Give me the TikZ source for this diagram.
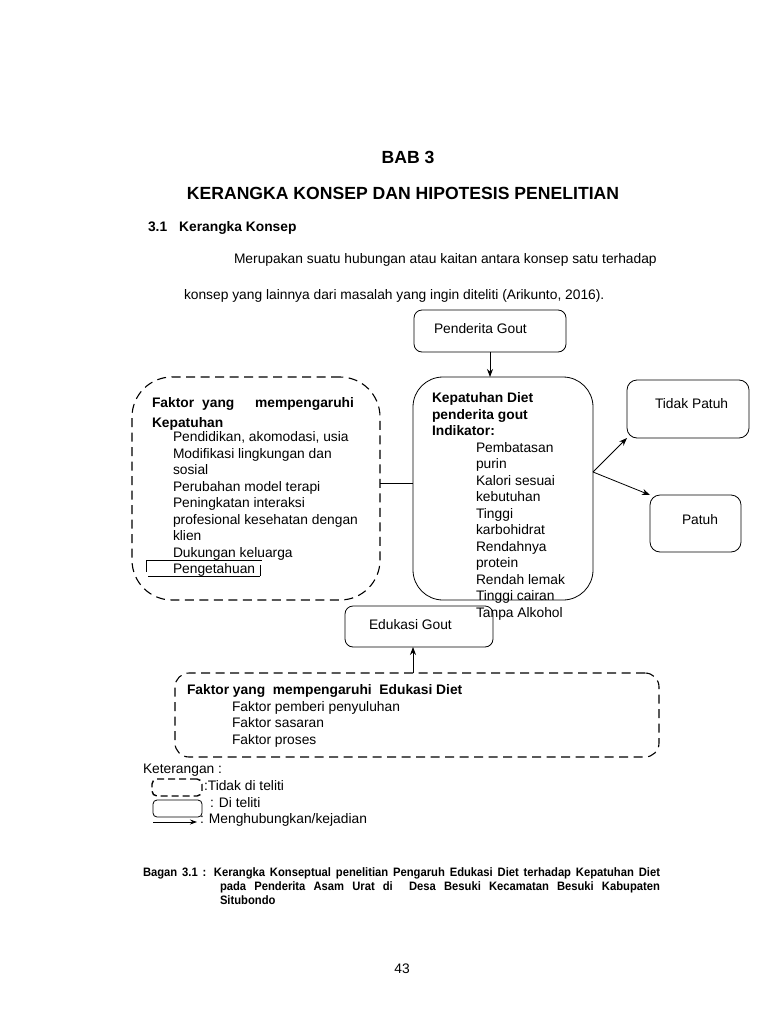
\documentclass[tikz,border=0pt]{standalone}
\usepackage{fontspec}
\setmainfont{Liberation Sans}
\newfontfamily\capfont[FakeStretch=0.92]{Liberation Sans}
\usetikzlibrary{arrows.meta,calc}
\begin{document}
\begin{tikzpicture}[x=1pt,y=-1pt,
  every node/.style={inner sep=0pt, outer sep=0pt},
  txt/.style={font=\fontsize{13.8}{16.5}\selectfont, anchor=west},
  blk/.style={font=\fontsize{13.8}{16.5}\selectfont, align=left, anchor=north west},
  bld/.style={font=\fontsize{13.8}{16.5}\selectfont\bfseries, align=left, anchor=north west},
  capt/.style={font=\capfont\fontsize{12.2}{13.5}\selectfont\bfseries, anchor=west},
  sbox/.style={draw, line width=0.8pt, rounded corners=8pt, anchor=north west},
  dbox/.style={draw, line width=1.1pt, dash pattern=on 9pt off 5.5pt, anchor=north west},
  arr/.style={-{Stealth[length=8pt,width=6pt]}, line width=0.8pt},
  ln/.style={line width=0.8pt}]
\fill[white] (0,0) rectangle (768,1024);
\useasboundingbox (0,0) rectangle (768,1024);

% header
\node[font=\fontsize{17.6}{20}\selectfont\bfseries] (bab) at (408,157) {BAB 3};
\node[font=\fontsize{17.6}{20}\selectfont\bfseries] (judul) at (403,193) {KERANGKA KONSEP DAN HIPOTESIS PENELITIAN};
\node[font=\fontsize{13.8}{16}\selectfont\bfseries, anchor=west] (sub) at (148,228) {3.1\hspace{12pt}Kerangka Konsep};
\node[txt] (p1) at (234,260) {Merupakan suatu hubungan atau kaitan antara konsep satu terhadap};
\node[txt] (p2) at (184,296) {konsep yang lainnya dari masalah yang ingin diteliti (Arikunto, 2016).};

% Penderita Gout
\node[sbox, minimum width=152pt, minimum height=42pt] (pg) at (414,310) {};
\node[txt] (pgt) at (434,329) {Penderita Gout};

% Kepatuhan Diet
\node[sbox, rounded corners=30pt, minimum width=180pt, minimum height=223pt] (kd) at (413,377) {};
\node[bld] (kdt) at (432,392.5) {Kepatuhan Diet\\penderita gout\\Indikator:};
\node[blk] (kdi) at (476,442) {Pembatasan\\purin\\Kalori sesuai\\kebutuhan\\Tinggi\\karbohidrat\\Rendahnya\\protein\\Rendah lemak\\Tinggi cairan\\Tanpa Alkohol};

% Faktor kepatuhan
\node[dbox, rounded corners=40pt, minimum width=248pt, minimum height=223pt] (fk) at (132,377) {};
\node[bld, font=\fontsize{13.8}{20}\selectfont\bfseries] (fkh) at (152,397.5) {\makebox[202pt][l]{Faktor\hspace{8pt}yang\hfill mempengaruhi}\\Kepatuhan};
\node[blk] (fki) at (173,431.5) {Pendidikan, akomodasi, usia\\Modifikasi lingkungan dan\\sosial\\Perubahan model terapi\\Peningkatan interaksi\\profesional kesehatan dengan\\klien\\Dukungan keluarga\\Pengetahuan};
\draw[line width=0.7pt] (146,560) -- (262,560);
\draw[line width=0.7pt] (146,560) -- (146,572);
\draw[line width=0.7pt] (148,576) -- (260,576);
\draw[line width=0.7pt] (260,565) -- (260,576);

% Tidak Patuh / Patuh
\node[sbox, rounded corners=10pt, minimum width=122pt, minimum height=58pt] (tp) at (627,380) {};
\node[txt] (tpt) at (655,404) {Tidak Patuh};
\node[sbox, rounded corners=10pt, minimum width=91pt, minimum height=57pt] (pt) at (650,495) {};
\node[txt] (ptt) at (682,520) {Patuh};

% Edukasi Gout
\node[sbox, rounded corners=8pt, minimum width=148pt, minimum height=41pt] (ed) at (345,606) {};
\node[txt] (edt) at (369,625) {Edukasi Gout};

% Faktor edukasi
\node[dbox, rounded corners=14pt, minimum width=484pt, minimum height=84pt] (bd) at (175,673) {};
\node[bld] (bdh) at (187,684.5) {Faktor yang\ \ mempengaruhi\ \ Edukasi Diet};
\node[blk] (bdi) at (232,701) {Faktor pemberi penyuluhan\\Faktor sasaran\\Faktor proses};

% connectors
\draw[ln] (fk.east |- 0,483) -- (kd.west |- 0,483);
\draw[arr] (pg.south) -- (pg.south |- kd.north);
\coordinate (ks) at ($(kd.east)+(0,-16.5)$);
\draw[arr] (ks) -- (tp.south west);
\draw[arr] (ks) -- (pt.north west);
\coordinate (ea) at ($(ed.south)+(-6,0)$);
\draw[arr] (ea |- bd.north) -- (ea);

% legend
\node[txt] (ket) at (143,770) {Keterangan :};
\node[dbox, rounded corners=5pt, minimum width=50pt, minimum height=17pt, dash pattern=on 7pt off 4pt, line width=1.4pt] (ld) at (152,779) {};
\node[txt] (ldt) at (204,786) {:Tidak di teliti};
\node[sbox, rounded corners=4pt, minimum width=49pt, minimum height=17pt] (ls) at (153,800) {};
\node[txt] (lst) at (210,803) {: Di teliti};
\coordinate (la) at (153,822);
\coordinate (lb) at (197,822);
\node[txt] (lat) at (200,820) {: Menghubungkan/kejadian};
\draw[arr, -{Stealth[length=7pt,width=5pt]}] (la) -- (lb);

% caption
\node[capt] (cap1) at (143,873) {\makebox[517pt][s]{Bagan 3.1 : Kerangka Konseptual penelitian Pengaruh Edukasi Diet terhadap Kepatuhan Diet}};
\node[capt] (cap2) at (220,887) {\makebox[440pt][s]{pada Penderita Asam Urat di\ \ Desa Besuki Kecamatan Besuki Kabupaten}};
\node[capt] (cap3) at (220,900) {Situbondo};

% page number
\node[font=\fontsize{13.8}{16}\selectfont] (pn) at (402,969) {43};
\end{tikzpicture}
\end{document}
